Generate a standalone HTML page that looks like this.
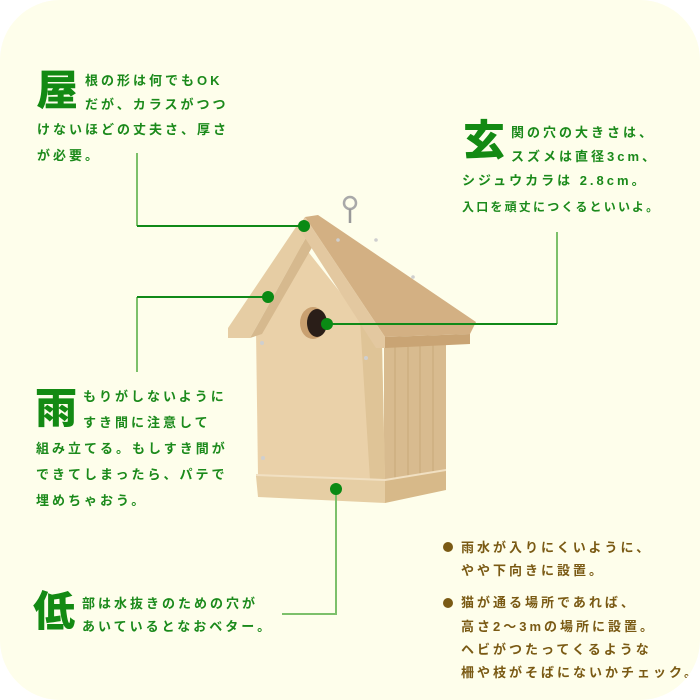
<!DOCTYPE html>
<html><head><meta charset="utf-8"><style>
html,body{margin:0;padding:0;background:#fff;}
#p{position:relative;width:700px;height:700px;background:#fefeeb;border-radius:60px;overflow:hidden;font-family:"Liberation Sans","Noto Sans CJK JP",sans-serif;font-weight:bold;}
.t{position:absolute;white-space:nowrap;font-size:13px;letter-spacing:3px;color:#1b8a1b;line-height:16px;}
.b{position:absolute;font-size:42px;line-height:42px;color:#138a13;font-weight:900;}
.br{color:#7a5a14;}
svg{position:absolute;left:0;top:0;}
</style></head><body><div id="p">
<svg width="700" height="700">
<g>
<circle cx="350" cy="203" r="6" fill="none" stroke="#a9a9a9" stroke-width="2.5"/>
<line x1="350" y1="209" x2="350" y2="223" stroke="#999" stroke-width="2.5"/>
<polygon points="384,343 446,340 446,472 384,486" fill="#d8bb8f"/>
<g stroke="#c9a878" stroke-width="1">
<line x1="395" y1="345" x2="395" y2="482"/><line x1="408" y1="344" x2="408" y2="480"/><line x1="420" y1="343" x2="420" y2="478"/><line x1="433" y1="342" x2="433" y2="475"/></g>
<polygon points="256,330 302,244 382,345 385,480 258,476" fill="#ead1a9"/>
<polygon points="360,320 382,345 385,480 370,480" fill="#dfc497"/>
<polygon points="298,224 308,234 258,324 250,338 228,338 228,328" fill="#e6cda4"/>
<polygon points="308,234 314,244 262,334 250,338 258,324" fill="#d6b98e"/>
<polygon points="305,217 318,215 476,322 470,334 385,337" fill="#d3b083"/>
<polygon points="298,227 305,217 385,337 385,348 376,348" fill="#e3c8a0"/>
<polygon points="385,337 470,334 470,344 385,348" fill="#c9a474"/>
<ellipse cx="313" cy="323" rx="13" ry="16" fill="#c9a070"/>
<ellipse cx="317" cy="323" rx="10" ry="14" fill="#2a1e18"/>
<polygon points="256,474 385,479 446,469 446,472 385,482 256,477" fill="#f1e0c2"/>
<polygon points="256,476 385,481 385,503 258,497" fill="#e6cea4"/>
<polygon points="385,481 446,471 446,490 385,503" fill="#d7b989"/>
<g fill="#cfcfcf"><circle cx="262" cy="343" r="2"/><circle cx="366" cy="358" r="2"/><circle cx="263" cy="458" r="2"/><circle cx="376" cy="240" r="1.8"/><circle cx="413" cy="277" r="1.8"/><circle cx="338" cy="240" r="1.8"/></g>
</g>
<g stroke="#7cc06a" stroke-width="2" fill="none">
<polyline points="137,153 137,226"/>
<polyline points="137,372 137,297"/>
<polyline points="557,232 557,324"/>
<polyline points="336,489 336,614 282,614"/>
</g>
<g stroke="#108a18" stroke-width="2" fill="none">
<line x1="137" y1="226" x2="304" y2="226"/>
<line x1="137" y1="297" x2="268" y2="297"/>
<line x1="327" y1="324" x2="557" y2="324"/>
</g>
<g fill="#0a8a14"><circle cx="304" cy="226" r="6"/><circle cx="268" cy="297" r="6"/><circle cx="327" cy="324" r="6"/><circle cx="336" cy="489" r="6"/></g>
<g fill="#7a5a14"><circle cx="448" cy="547" r="5"/><circle cx="448" cy="603" r="5"/></g>
</svg>

<div class="b" style="left:36px;top:70px;">屋</div>
<div class="t" style="left:85px;top:73px;">根の形は何でもOK</div>
<div class="t" style="left:85px;top:97px;">だが、カラスがつつ</div>
<div class="t" style="left:37px;top:122px;">けないほどの丈夫さ、厚さ</div>
<div class="t" style="left:37px;top:148px;">が必要。</div>

<div class="b" style="left:463px;top:120px;">玄</div>
<div class="t" style="left:511px;top:125px;">関の穴の大きさは、</div>
<div class="t" style="left:511px;top:149px;">スズメは直径3cm、</div>
<div class="t" style="left:462px;top:173px;">シジュウカラは 2.8cm。</div>
<div class="t" style="left:462px;top:199px;font-size:12px;letter-spacing:2.2px;">入口を頑丈につくるといいよ。</div>

<div class="b" style="left:35px;top:388px;">雨</div>
<div class="t" style="left:83px;top:389px;">もりがしないように</div>
<div class="t" style="left:83px;top:415px;">すき間に注意して</div>
<div class="t" style="left:36px;top:441px;">組み立てる。もしすき間が</div>
<div class="t" style="left:36px;top:467px;">できてしまったら、パテで</div>
<div class="t" style="left:36px;top:493px;">埋めちゃおう。</div>

<div class="b" style="left:33px;top:591px;">低</div>
<div class="t" style="left:82px;top:596px;">部は水抜きのための穴が</div>
<div class="t" style="left:82px;top:619px;">あいているとなおベター。</div>

<div class="t br" style="left:461px;top:540px;">雨水が入りにくいように、</div>
<div class="t br" style="left:461px;top:563px;">やや下向きに設置。</div>
<div class="t br" style="left:461px;top:595px;">猫が通る場所であれば、</div>
<div class="t br" style="left:461px;top:619px;">高さ2〜3mの場所に設置。</div>
<div class="t br" style="left:461px;top:642px;">ヘビがつたってくるような</div>
<div class="t br" style="left:461px;top:665px;">柵や枝がそばにないかチェック。</div>
</div></body></html>
